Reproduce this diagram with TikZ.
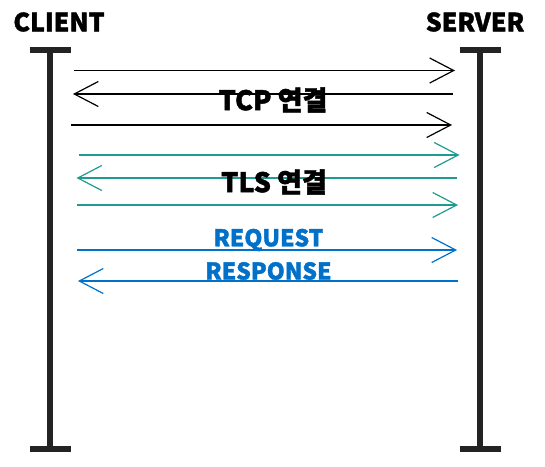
\documentclass[tikz,border=0pt]{standalone}
\usepackage{fontspec}
\setmainfont{Noto Sans CJK KR}[BoldFeatures={FakeBold=1.6}]
\usetikzlibrary{arrows.meta}
\definecolor{lifegray}{RGB}{35,35,35}
\definecolor{tlsteal}{RGB}{30,155,145}
\definecolor{httpblue}{RGB}{0,112,200}
\tikzset{
  lifeline/.style={line width=5.5pt,draw=lifegray},
  msg/.style={line width=1.2pt,-{Straight Barb[length=24pt,width=25pt]}},
  party/.style={font=\bfseries\fontsize{25}{25}\selectfont,inner sep=0pt},
  phase/.style={font=\bfseries\fontsize{27}{27}\selectfont,inner sep=0pt},
  reqres/.style={font=\bfseries\fontsize{23}{23}\selectfont,inner sep=0pt,text=httpblue}
}
\begin{document}
\begin{tikzpicture}[x=1pt,y=-1pt]
\useasboundingbox (0,0) rectangle (545,466);

% parties
\node[party] (client) at (59,22) {CLIENT};
\node[party] (server) at (475,22) {SERVER};

% lifelines
\coordinate (ctop) at (50,50);
\coordinate (cbot) at (50,449);
\coordinate (stop) at (480,50);
\coordinate (sbot) at (480,449);
\draw[lifeline] (ctop) -- (cbot);
\draw[lifeline] (stop) -- (sbot);
\draw[lifeline] ([xshift=-20.5pt]ctop) -- ([xshift=20.5pt]ctop);
\draw[lifeline] ([xshift=-20.5pt]cbot) -- ([xshift=20.5pt]cbot);
\draw[lifeline] ([xshift=-20.5pt]stop) -- ([xshift=20.5pt]stop);
\draw[lifeline] ([xshift=-20.5pt]sbot) -- ([xshift=20.5pt]sbot);

% TCP handshake
\coordinate (tcpc1) at (74,70.5); \coordinate (tcps1) at (455,70.5);
\coordinate (tcpc2) at (73,94);   \coordinate (tcps2) at (452.5,94);
\coordinate (tcpc3) at (71,125);  \coordinate (tcps3) at (452,125);
\draw[msg] (tcpc1) -- (tcps1);
\draw[msg] (tcps2) -- (tcpc2);
\draw[msg] (tcpc3) -- (tcps3);

% TLS handshake
\coordinate (tlsc1) at (79,155);   \coordinate (tlss1) at (459.5,155);
\coordinate (tlsc2) at (76.5,178); \coordinate (tlss2) at (457,178);
\coordinate (tlsc3) at (77,205);   \coordinate (tlss3) at (458,205);
\draw[msg,tlsteal] (tlsc1) -- (tlss1);
\draw[msg,tlsteal] (tlss2) -- (tlsc2);
\draw[msg,tlsteal] (tlsc3) -- (tlss3);

% request / response
\coordinate (reqc) at (77,250); \coordinate (reqs) at (457,250);
\coordinate (resc) at (78,281); \coordinate (ress) at (458,281);
\draw[msg,httpblue] (reqc) -- (reqs);
\draw[msg,httpblue] (ress) -- (resc);

\node[phase] (tcp) at (273,100) {TCP 연결};
\node[phase] (tls) at (274,182) {TLS 연결};
\node[reqres] (request) at (268.5,240) {REQUEST};
\node[reqres] (response) at (268.5,271) {RESPONSE};
\end{tikzpicture}
\end{document}
